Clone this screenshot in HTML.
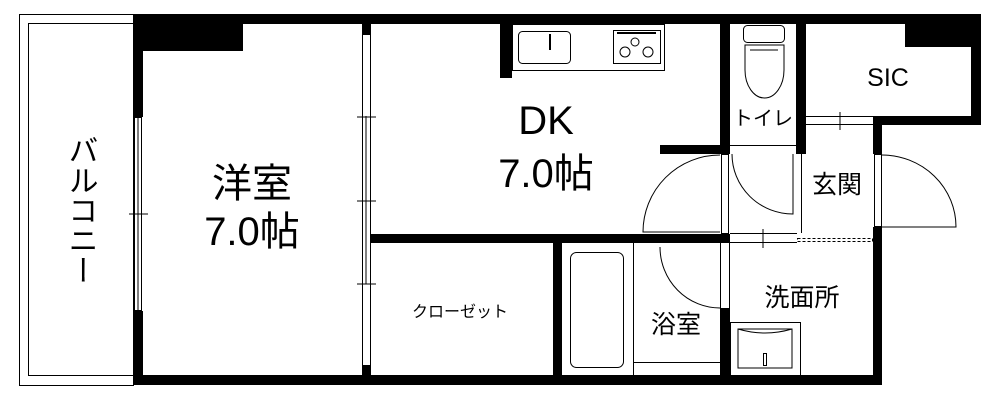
<!DOCTYPE html>
<html><head><meta charset="utf-8"><style>
html,body{margin:0;padding:0;background:#fff;}
svg{display:block;}
text{font-family:"Liberation Sans","Noto Sans CJK JP",sans-serif;fill:#000;}
</style></head><body>
<svg width="1000" height="400" viewBox="0 0 1000 400" xmlns="http://www.w3.org/2000/svg">
<!-- balcony -->
<rect x="19.5" y="14.5" width="114" height="371" fill="none" stroke="#000" stroke-width="1"/>
<rect x="28.5" y="23.5" width="105" height="352" fill="none" stroke="#000" stroke-width="1"/>
<g fill="#000">
<!-- outer walls -->
<rect x="133" y="14" width="848" height="10"/>
<rect x="133" y="375" width="749" height="10"/>
<rect x="133" y="14" width="10" height="103"/>
<rect x="133" y="311" width="10" height="74"/>
<rect x="133" y="14" width="110" height="37"/>
<rect x="971" y="14" width="10" height="111"/>
<rect x="905" y="24" width="76" height="23"/>
<rect x="873" y="116" width="108" height="9"/>
<rect x="873" y="116" width="9" height="38"/>
<rect x="873" y="227" width="9" height="158"/>
<!-- interior -->
<rect x="362" y="24" width="9" height="10"/>
<rect x="362" y="366" width="9" height="10"/>
<rect x="371" y="234" width="359" height="9"/>
<rect x="553" y="243" width="9" height="132"/>
<rect x="500" y="24" width="12" height="54"/>
<rect x="720" y="24" width="10" height="130"/>
<rect x="660" y="145" width="70" height="9"/>
<rect x="796" y="24" width="10" height="130"/>
<rect x="720" y="308" width="10" height="67"/>
</g>
<g fill="none" stroke="#000" stroke-width="1">
<!-- balcony window -->
<rect x="134.5" y="117.5" width="7" height="193"/>
<line x1="138" y1="117" x2="138" y2="311"/>
<line x1="129" y1="214" x2="148" y2="214"/>
<!-- sliding doors -->
<rect x="362.5" y="34.5" width="8" height="331"/>
<line x1="366" y1="116" x2="366" y2="284"/>
<line x1="357" y1="117" x2="376" y2="117"/>
<line x1="357" y1="201" x2="376" y2="201"/>
<line x1="357" y1="284" x2="376" y2="284"/>
<!-- counter -->
<rect x="512.5" y="24.5" width="152" height="46"/>
<rect x="518.5" y="31.5" width="52" height="32" rx="4"/>
<rect x="613.5" y="30.5" width="47" height="33"/>
<line x1="617" y1="33" x2="656" y2="33" stroke-width="2"/>
<circle cx="635" cy="42" r="4"/><circle cx="625" cy="52" r="5"/><circle cx="648" cy="52" r="5"/>
<line x1="550" y1="34" x2="550" y2="50" stroke-width="2"/>
<!-- toilet -->
<rect x="743.5" y="25.5" width="41" height="17" rx="4"/>
<path d="M745 45 L784 45 L784 70 A19.5 28 0 0 1 745 70 Z"/>
<line x1="750" y1="50" x2="778" y2="50"/>
<line x1="730" y1="145.5" x2="796" y2="145.5"/>
<!-- SIC opening -->
<line x1="806" y1="116.5" x2="873" y2="116.5"/>
<line x1="806" y1="124.5" x2="873" y2="124.5"/>
<line x1="840" y1="112" x2="840" y2="130"/>
<rect x="874.5" y="118.5" width="73" height="3" stroke-dasharray="3,2"/>
<!-- entrance door -->
<rect x="874.5" y="154.5" width="7" height="72"/>
<path d="M882 155 A74 72 0 0 1 956 227 L882 227"/>
<!-- DK door -->
<rect x="721.5" y="154.5" width="7" height="79"/>
<path d="M720 155 A77 77 0 0 0 643 232 L720 232"/>
<!-- hall toilet door -->
<path d="M732 154 A61 60 0 0 0 793 214 L793 154"/>
<line x1="801.5" y1="154" x2="801.5" y2="233"/>
<rect x="797.5" y="238.5" width="75" height="3" stroke-dasharray="3,2"/>
<line x1="730" y1="233.5" x2="797" y2="233.5"/>
<line x1="730" y1="242.5" x2="797" y2="242.5"/>
<line x1="763" y1="229" x2="763" y2="248"/>
<!-- bath door -->
<line x1="720.5" y1="243" x2="720.5" y2="308"/>
<line x1="729.5" y1="243" x2="729.5" y2="308"/>
<path d="M660 247 A60 61 0 0 0 720 308"/>
<!-- tub -->
<rect x="570.5" y="252.5" width="53" height="115" rx="6"/>
<line x1="633.5" y1="243" x2="633.5" y2="375"/>
<line x1="633" y1="362.5" x2="720" y2="362.5"/>
<!-- vanity -->
<rect x="730.5" y="322.5" width="70" height="53"/>
<path d="M738 329 L792 329 L792 368 L738 368 Z M738 329 Q765 337 792 329"/>
<rect x="763.5" y="353.5" width="3" height="12"/>
</g>
<!-- labels -->
<text x="80" y="135" font-size="30" writing-mode="tb" style="writing-mode:vertical-rl" text-anchor="start">バルコニー</text>
<text x="252" y="197" font-size="40" text-anchor="middle">洋室</text>
<text x="252" y="245" font-size="40" text-anchor="middle">7.0帖</text>
<text x="546" y="134" font-size="40" text-anchor="middle">DK</text>
<text x="546" y="187" font-size="40" text-anchor="middle">7.0帖</text>
<text x="763" y="125" font-size="20" text-anchor="middle">トイレ</text>
<text x="888" y="86" font-size="25" text-anchor="middle">SIC</text>
<text x="837" y="193" font-size="25" text-anchor="middle">玄関</text>
<text x="802" y="306" font-size="25" text-anchor="middle">洗面所</text>
<text x="676" y="333" font-size="25" text-anchor="middle">浴室</text>
<text x="460" y="317" font-size="16" text-anchor="middle">クローゼット</text>
</svg>
</body></html>
